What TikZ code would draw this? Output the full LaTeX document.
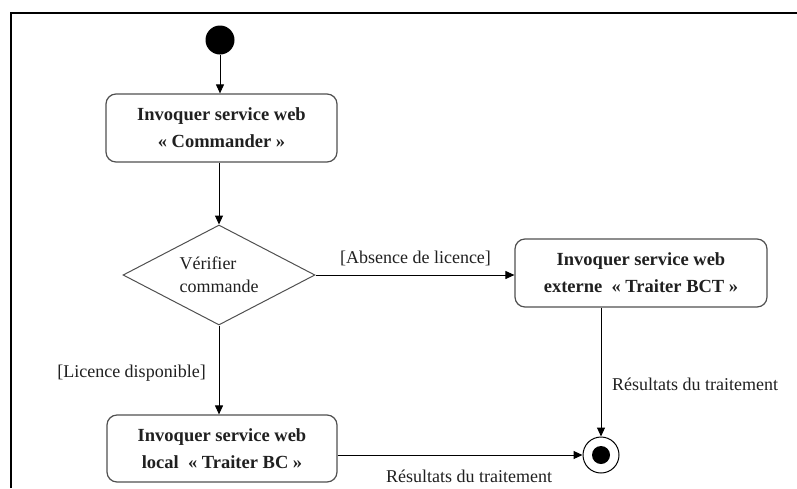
\documentclass[tikz,border=0pt]{standalone}
\usepackage{fontspec}
\setmainfont{Liberation Serif}
\usetikzlibrary{shapes.geometric,arrows.meta}
\definecolor{boxline}{HTML}{505050}
\definecolor{txt}{HTML}{202020}
\tikzset{
  act/.style={draw=boxline, line width=1.2pt, rounded corners=10pt, align=center,
    font=\fontsize{18.5}{27}\selectfont\bfseries, text=txt, inner sep=0pt},
  lbl/.style={font=\fontsize{18}{23}\selectfont, text=txt, inner sep=0pt},
  flow/.style={line width=1pt, -{Triangle[length=9pt,width=8pt]}},
}
\begin{document}
\begin{tikzpicture}[x=1pt,y=-1pt]
\useasboundingbox (0,0) rectangle (797,488);
\fill[white] (0,0) rectangle (797,488);
\draw[line width=2pt] (11,488) -- (11,13) -- (797,13);

\node[circle, fill=black, minimum size=29pt, inner sep=0pt] (start) at (220,40) {};
\node[act, minimum width=231pt, minimum height=68pt] (cmd) at (221.5,128)
  {Invoquer service web\\« Commander »};
\node[diamond, draw=boxline, line width=1pt, minimum width=192pt, minimum height=100pt,
  shape aspect=1.92, inner sep=0pt, align=left, lbl] (chk) at (219,275) {Vérifier\\commande};
\node[act, minimum width=252pt, minimum height=68pt] (ext) at (641,273)
  {Invoquer service web\\externe ~« Traiter BCT »};
\node[act, minimum width=230pt, minimum height=67pt] (loc) at (222,448.5)
  {Invoquer service web\\local ~« Traiter BC »};
\node[circle, draw=black, line width=1pt, minimum size=36pt, inner sep=0pt] (fin) at (601,455) {};
\node[circle, fill=black, minimum size=18pt, inner sep=0pt] (finin) at (fin) {};

\draw[flow] (start) -- (start |- cmd.north);
\draw[flow] (cmd.south -| chk) -- (chk.north);
\draw[flow] (chk.east) -- (ext.west |- chk.east);
\draw[flow] (chk.south) -- (loc.north -| chk.south);
\draw[flow] (ext.south -| fin) -- (fin.north);
\draw[flow] (loc.east |- fin.west) -- (fin.west);

\node[lbl] (labs) at (415.5,258) {[Absence de licence]};
\node[lbl] (llic) at (131.5,373) {[Licence disponible]};
\node[lbl] (lres1) at (695,384) {Résultats du traitement};
\node[lbl] (lres2) at (469,476) {Résultats du traitement};
\end{tikzpicture}
\end{document}
